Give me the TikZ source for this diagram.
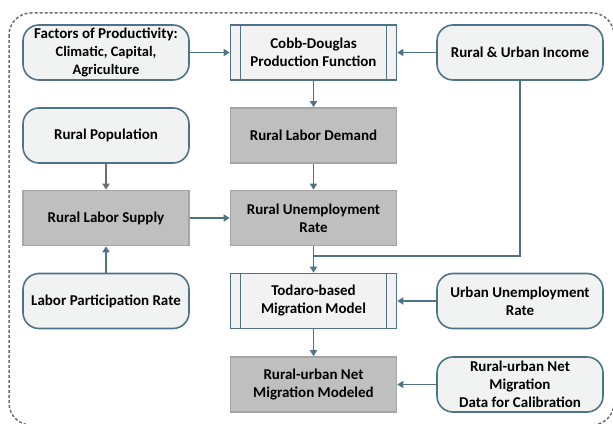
\documentclass[tikz,border=0pt]{standalone}
\usepackage{fontspec}
\setmainfont{Carlito}
\usetikzlibrary{arrows.meta, positioning, calc}

\definecolor{edgeblue}{HTML}{4E7387}
\definecolor{lightfill}{HTML}{F1F3F3}
\definecolor{procfill}{HTML}{F2F2F2}
\definecolor{grayfill}{HTML}{BFBFBF}
\definecolor{grayline}{HTML}{A5A5A5}
\definecolor{darkgray}{HTML}{6E6E6E}

\begin{document}
\begin{tikzpicture}[x=1pt, y=1pt,
    font=\fontsize{15}{18}\selectfont\bfseries,
    box/.style={minimum width=166pt, minimum height=55pt, inner sep=2pt, align=center, line width=1.6pt},
    input/.style={box, rounded corners=16pt, draw=edgeblue, fill=lightfill},
    calc/.style={box, draw=grayline, fill=grayfill},
    process/.style={box, draw=edgeblue, fill=procfill,
        path picture={
            \draw[edgeblue, line width=1.6pt]
                ([xshift=10pt]path picture bounding box.north west) -- ([xshift=10pt]path picture bounding box.south west)
                ([xshift=-10pt]path picture bounding box.north east) -- ([xshift=-10pt]path picture bounding box.south east);
        }},
    flow/.style={draw=edgeblue, line width=1.8pt, -{Triangle[width=7pt, length=6pt]}},
    grayflow/.style={flow, draw=darkgray}
]
    \useasboundingbox (0,0) rectangle (613,423);
    \draw[darkgray, line width=1.5pt, dash pattern=on 3pt off 2pt, rounded corners=22pt]
        (9,410) rectangle (614,-2);

    % left column
    \node[input] (factors) at (106,370.5) {Factors of Productivity:\\{\fontsize{14.5}{17}\selectfont Climatic, Capital,}\\{\fontsize{14.5}{17}\selectfont Agriculture}};
    \node[input] (pop) at (106,287.5) {Rural Population};
    \node[calc] (supply) at (106,205) {Rural Labor Supply};
    \node[input] (partic) at (106,122) {Labor Participation Rate};

    % middle column
    \node[process] (cobb) at (313.5,370.5) {Cobb-Douglas\\Production Function};
    \node[calc] (demand) at (313.5,287.5) {Rural Labor Demand};
    \node[calc] (ruralunemp) at (313.5,205) {Rural Unemployment\\Rate};
    \node[process] (todaro) at (313.5,122) {Todaro-based\\Migration Model};
    \node[calc] (modeled) at (313.5,38.5) {Rural-urban Net\\Migration Modeled};

    % right column
    \node[input] (income) at (520,370.5) {Rural \& Urban Income};
    \node[input] (urbanunemp) at (520,122) {Urban Unemployment\\Rate};
    \node[input] (netdata) at (520,38.5) {Rural-urban Net\\Migration\\Data for Calibration};

    \coordinate (join) at (313.5,167);

    \draw[flow] (factors) -- (cobb);
    \draw[flow] (income) -- (cobb);
    \draw[flow] (cobb) -- (demand);
    \draw[flow] (demand) -- (ruralunemp);
    \draw[grayflow] (pop) -- (supply);
    \draw[flow] (partic) -- (supply);
    \draw[flow] (supply) -- (ruralunemp);
    \draw[flow] (ruralunemp) -- (todaro);
    \draw[draw=edgeblue, line width=1.8pt] (income.south) -- (income.south |- join) -- (join);
    \draw[flow] (urbanunemp) -- (todaro);
    \draw[flow] (netdata) -- (modeled);
    \draw[flow] (todaro) -- (modeled);
\end{tikzpicture}
\end{document}
